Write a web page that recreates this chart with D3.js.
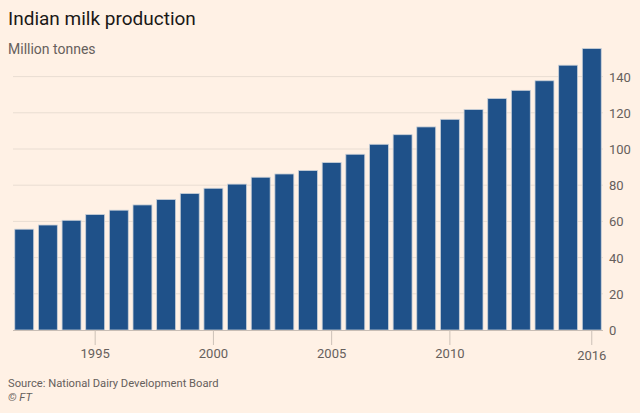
<!DOCTYPE html>
<html>
<head>
<meta charset="utf-8">
<script src="https://cdn.jsdelivr.net/npm/d3@7"></script>
<style>
  html, body { margin: 0; padding: 0; background: #fff1e5; }
  svg { display: block; }
  text { font-family: Roboto, "Noto Sans", sans-serif; }
</style>
</head>
<body>
<svg id="chart" width="640" height="413"></svg>
<script>
const years = [1992,1993,1994,1995,1996,1997,1998,1999,2000,2001,2002,2003,2004,2005,2006,2007,2008,2009,2010,2011,2012,2013,2014,2015,2016];
const production = [55.7,58.0,60.6,63.8,66.2,69.1,72.1,75.4,78.3,80.6,84.4,86.2,88.1,92.5,97.1,102.6,107.9,112.2,116.4,121.8,127.9,132.4,137.7,146.3,155.5];
const yTicks = [0,20,40,60,80,100,120,140];
const xTickYears = [1995,2000,2005,2010,2016];

const svg = d3.select("#chart");
svg.append("rect").attr("width",640).attr("height",413).attr("fill","#fff1e5");

const x = d3.scaleBand().domain(years).range([12.4, 603.6]).paddingInner(0.2).paddingOuter(0.1);
const y = d3.scaleLinear().domain([0, 140]).range([330, 76.6]);

// gridlines + right axis
const yAxis = d3.axisRight(y).tickValues(yTicks).tickSize(0).tickPadding(6);
const gy = svg.append("g").attr("transform","translate(603,0)").call(yAxis);
gy.select(".domain").remove();
gy.selectAll("text").attr("fill","#66605c").attr("font-size","13px").attr("dy","0.35em");
svg.append("g").selectAll("line").data(yTicks.filter(d=>d>0)).join("line")
  .attr("x1",13).attr("x2",603)
  .attr("y1",d=>y(d)).attr("y2",d=>y(d))
  .attr("stroke","#e9ddd2").attr("stroke-width",1);

// bars
svg.append("g").selectAll("rect").data(years).join("rect")
  .attr("x", (d)=>x(d))
  .attr("width", x.bandwidth())
  .attr("y", (d,i)=>y(production[i]))
  .attr("height", (d,i)=>y(0)-y(production[i]))
  .attr("fill","#1f5189")
  .attr("stroke","#c9d0d8").attr("stroke-width",0.8);

// baseline
svg.append("line").attr("x1",13).attr("x2",603).attr("y1",330.5).attr("y2",330.5)
  .attr("stroke","#c8bdb4").attr("stroke-width",1);

// x axis
const xAxis = d3.axisBottom(x).tickValues(xTickYears).tickSize(15).tickPadding(4).tickFormat(d3.format("d"));
const gx = svg.append("g").attr("transform","translate(0,330)").call(xAxis);
gx.select(".domain").remove();
gx.selectAll(".tick line").attr("stroke","#ccc1b7");
gx.selectAll("text").attr("fill","#66605c").attr("font-size","13px");
gx.selectAll(".tick").filter(d=>d===2016).select("text").attr("dy","0.85em");

// titles
svg.append("text").attr("x",8).attr("y",25).attr("font-size","19px").attr("fill","#1a1817").text("Indian milk production");
svg.append("text").attr("x",8).attr("y",54).attr("font-size","14px").attr("fill","#66605c").text("Million tonnes");
svg.append("text").attr("x",8).attr("y",387).attr("font-size","11.2px").attr("fill","#66605c").text("Source: National Dairy Development Board");
svg.append("text").attr("x",8).attr("y",400.5).attr("font-size","11.2px").attr("fill","#66605c").attr("font-style","italic").text("© FT");
</script>
</body>
</html>
